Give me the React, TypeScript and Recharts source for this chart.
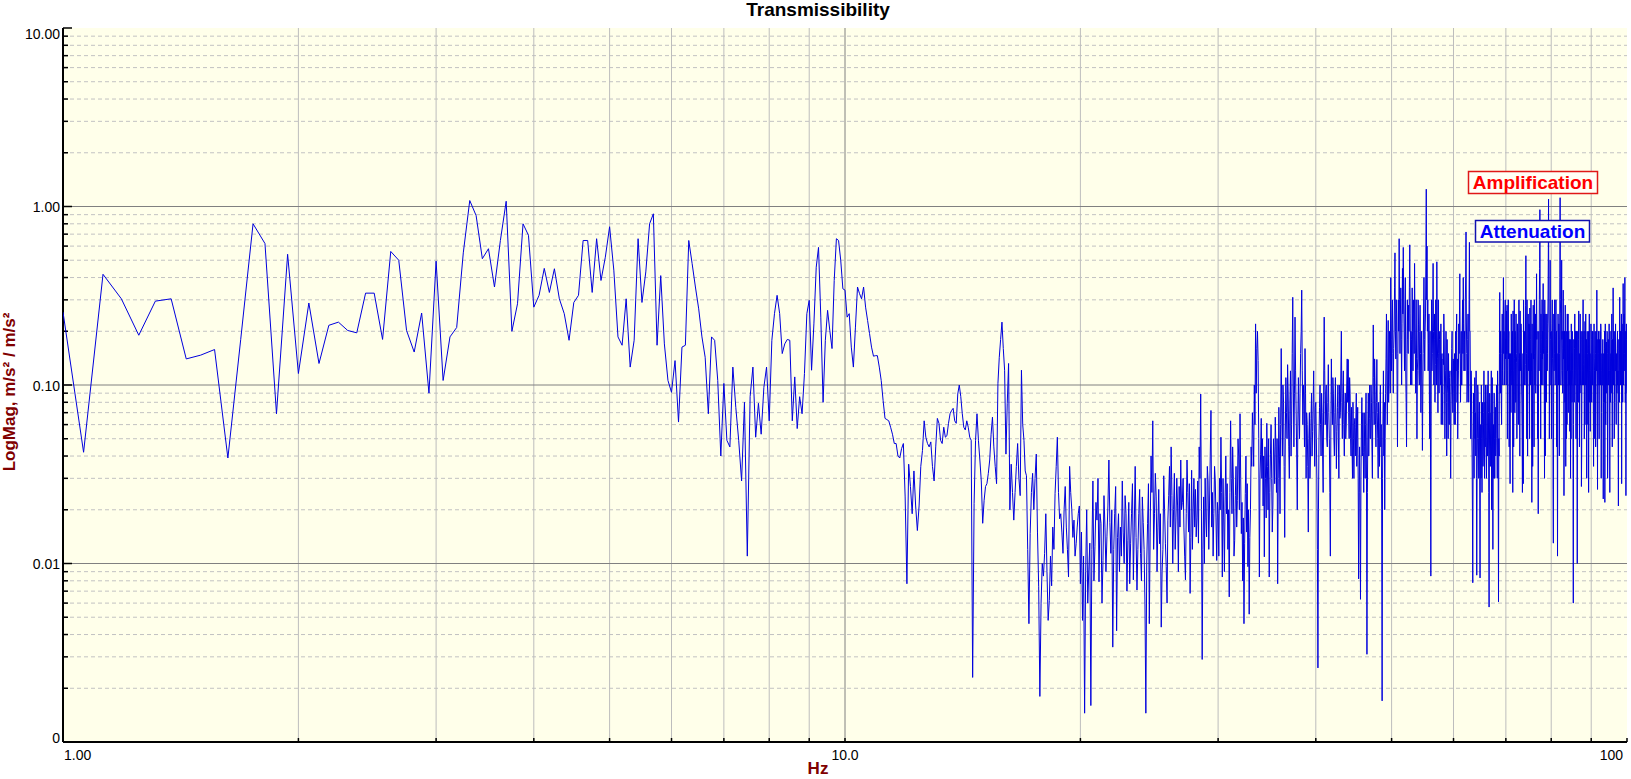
import React from 'react';
import { LineChart, Line, XAxis, YAxis, ReferenceLine } from 'recharts';

const W = 1631;
const H = 779;
const LEFT = 63; // y axis line
const TOP = 28;
const RIGHT = 1627;
const BOTTOM = 742; // x axis line
const FONT = '"Liberation Sans", Arial, Helvetica, sans-serif';

const STEP = 0.0625; // 1/16 Hz frequency lines

// magnitudes, one value per frequency line
const mag1to3 = [
  0.256, 0.042, 0.417, 0.304, 0.19, 0.295, 0.304, 0.14, 0.147, 0.158, 0.039, 0.18, 0.8, 0.62, 0.069, 0.54,
  0.116, 0.288, 0.132, 0.216, 0.225, 0.202, 0.196, 0.327, 0.327, 0.18, 0.56, 0.5, 0.202, 0.153, 0.253, 0.09,
];
const mag3to5 = [
  0.494, 0.106, 0.186, 0.21, 0.55, 1.08, 0.89, 0.51, 0.58, 0.354, 0.645, 1.07, 0.2, 0.285, 0.8, 0.69,
  0.273, 0.318, 0.45, 0.33, 0.448, 0.304, 0.251, 0.178, 0.29, 0.318, 0.645, 0.645, 0.33, 0.66, 0.385, 0.52,
];
const mag5to8 = [
  0.77, 0.44, 0.186, 0.167, 0.304, 0.126, 0.178, 0.66, 0.29, 0.43, 0.8, 0.91, 0.167, 0.41, 0.17, 0.106,
  0.091, 0.137, 0.062, 0.163, 0.167, 0.645, 0.48, 0.354, 0.267, 0.186, 0.143, 0.069, 0.186, 0.178, 0.106, 0.04,
  0.102, 0.049, 0.045, 0.126, 0.075, 0.049, 0.029, 0.08, 0.011, 0.086, 0.126, 0.051, 0.079, 0.053, 0.097, 0.126,
];
const mag8to12 = [
  0.063, 0.178, 0.251, 0.318, 0.251, 0.15, 0.17, 0.18, 0.178, 0.063, 0.111, 0.057, 0.086, 0.069, 0.116, 0.251,
  0.298, 0.121, 0.22, 0.457, 0.59, 0.24, 0.08, 0.178, 0.262, 0.202, 0.16, 0.385, 0.66, 0.645, 0.5, 0.346,
  0.34, 0.24, 0.251, 0.163, 0.126, 0.211, 0.354, 0.325, 0.304, 0.354, 0.273, 0.23, 0.194, 0.163, 0.145, 0.146,
  0.146, 0.126, 0.106, 0.082, 0.065, 0.064, 0.063, 0.058, 0.053, 0.047, 0.047, 0.04, 0.039, 0.044, 0.047, 0.0236,
];
const mag12to16 = [
  0.0077, 0.036, 0.027, 0.019, 0.033, 0.021, 0.0153, 0.021, 0.035, 0.043, 0.063, 0.051, 0.047, 0.045, 0.048, 0.035,
  0.029, 0.045, 0.065, 0.061, 0.049, 0.047, 0.058, 0.051, 0.052, 0.061, 0.069, 0.072, 0.074, 0.063, 0.061, 0.089,
  0.1, 0.086, 0.069, 0.058, 0.056, 0.063, 0.058, 0.051, 0.049, 0.0023, 0.0217, 0.049, 0.069, 0.049, 0.038, 0.029,
  0.0168, 0.0226, 0.027, 0.028, 0.032, 0.038, 0.053, 0.066, 0.045, 0.035, 0.028, 0.102, 0.143, 0.18, 0.225, 0.16,
];
const mag16to20 = [
  0.121, 0.041, 0.079, 0.132, 0.02, 0.036, 0.025, 0.0175, 0.025, 0.035, 0.047, 0.03, 0.024, 0.121, 0.06, 0.049,
  0.033, 0.031, 0.012, 0.0046, 0.0147, 0.025, 0.032, 0.02, 0.03, 0.041, 0.015, 0.0074, 0.0018, 0.006, 0.01, 0.0085,
  0.0114, 0.019, 0.009, 0.0048, 0.0062, 0.011, 0.0075, 0.016, 0.012, 0.0247, 0.035, 0.051, 0.025, 0.0178, 0.019, 0.015,
  0.0114, 0.02, 0.027, 0.016, 0.012, 0.0084, 0.035, 0.025, 0.02, 0.014, 0.0175, 0.011, 0.0129, 0.016, 0.019, 0.021,
];
const mag20to36 = [
  0.0077, 0.015, 0.0048, 0.011, 0.00145, 0.009, 0.02, 0.006, 0.0092, 0.013, 0.0016, 0.012, 0.029, 0.008, 0.0124, 0.022,
  0.0175, 0.03, 0.0079, 0.019, 0.0168, 0.006, 0.0104, 0.024, 0.016, 0.009, 0.0141, 0.021, 0.038, 0.017, 0.0114, 0.02,
  0.0034, 0.012, 0.019, 0.027, 0.0042, 0.014, 0.019, 0.009, 0.016, 0.011, 0.029, 0.015, 0.01, 0.024, 0.019, 0.007,
  0.0135, 0.022, 0.0077, 0.013, 0.019, 0.028, 0.0081, 0.016, 0.035, 0.014, 0.0071, 0.012, 0.019, 0.026, 0.0114, 0.008,
  0.0236, 0.017, 0.012, 0.006, 0.00145, 0.01, 0.0168, 0.028, 0.0046, 0.015, 0.04, 0.025, 0.063, 0.012, 0.019, 0.032,
  0.0236, 0.009, 0.016, 0.026, 0.0129, 0.019, 0.0044, 0.009, 0.012, 0.031, 0.02, 0.013, 0.0096, 0.006, 0.0175, 0.024,
  0.035, 0.016, 0.045, 0.024, 0.01, 0.02, 0.032, 0.012, 0.018, 0.03, 0.021, 0.009, 0.027, 0.016, 0.038, 0.02,
  0.022, 0.03, 0.016, 0.011, 0.0081, 0.019, 0.038, 0.025, 0.015, 0.028, 0.0068, 0.014, 0.0333, 0.012, 0.02, 0.03,
  0.016, 0.026, 0.0141, 0.018, 0.029, 0.013, 0.045, 0.03, 0.089, 0.02, 0.0029, 0.012, 0.0236, 0.01, 0.03, 0.018,
  0.0141, 0.035, 0.029, 0.012, 0.021, 0.04, 0.072, 0.016, 0.025, 0.011, 0.019, 0.035, 0.029, 0.018, 0.0104, 0.022,
  0.019, 0.011, 0.03, 0.02, 0.051, 0.025, 0.0084, 0.03, 0.018, 0.009, 0.0236, 0.04, 0.019, 0.028, 0.012, 0.02,
  0.0065, 0.025, 0.063, 0.03, 0.019, 0.045, 0.03, 0.011, 0.0135, 0.024, 0.035, 0.016, 0.0226, 0.05, 0.04, 0.02,
  0.069, 0.03, 0.0147, 0.022, 0.008, 0.018, 0.0046, 0.013, 0.0247, 0.04, 0.015, 0.028, 0.0096, 0.02, 0.0052, 0.014,
  0.02, 0.045, 0.035, 0.07, 0.053, 0.035, 0.1, 0.06, 0.22, 0.09, 0.16, 0.2, 0.137, 0.05, 0.0084, 0.03,
  0.041, 0.065, 0.03, 0.05, 0.021, 0.04, 0.0109, 0.045, 0.03, 0.018, 0.061, 0.035, 0.02, 0.05, 0.0084, 0.025,
  0.041, 0.06, 0.03, 0.015, 0.021, 0.05, 0.04, 0.028, 0.066, 0.045, 0.025, 0.05, 0.0077, 0.03, 0.075, 0.04,
];
const mag36to50 = [
  0.019, 0.06, 0.16, 0.07, 0.04, 0.1, 0.08, 0.035, 0.014, 0.05, 0.11, 0.07, 0.05, 0.13, 0.09, 0.045,
  0.03, 0.08, 0.12, 0.04, 0.06, 0.15, 0.31, 0.1, 0.045, 0.09, 0.24, 0.12, 0.07, 0.04, 0.02, 0.06,
  0.11, 0.07, 0.05, 0.09, 0.15, 0.2, 0.34, 0.12, 0.06, 0.1, 0.08, 0.045, 0.16, 0.09, 0.03, 0.07,
  0.06, 0.035, 0.015, 0.05, 0.07, 0.03, 0.04, 0.065, 0.09, 0.04, 0.055, 0.08, 0.12, 0.06, 0.035, 0.075,
  0.08, 0.05, 0.03, 0.012, 0.0026, 0.02, 0.05, 0.075, 0.1, 0.06, 0.04, 0.09, 0.07, 0.04, 0.025, 0.1,
  0.24, 0.12, 0.06, 0.09, 0.1, 0.05, 0.045, 0.08, 0.13, 0.07, 0.05, 0.025, 0.011, 0.06, 0.14, 0.08,
  0.06, 0.11, 0.09, 0.05, 0.04, 0.07, 0.11, 0.06, 0.034, 0.055, 0.075, 0.1, 0.05, 0.03, 0.1, 0.065,
  0.07, 0.12, 0.2, 0.08, 0.05, 0.09, 0.12, 0.06, 0.04, 0.07, 0.09, 0.05, 0.06, 0.1, 0.14, 0.08,
  0.139, 0.07, 0.05, 0.11, 0.09, 0.05, 0.04, 0.075, 0.046, 0.03, 0.08, 0.05, 0.03, 0.06, 0.065, 0.04,
  0.058, 0.09, 0.035, 0.05, 0.075, 0.03, 0.0082, 0.025, 0.045, 0.02, 0.0063, 0.03, 0.06, 0.085, 0.04, 0.07,
  0.042, 0.025, 0.07, 0.045, 0.03, 0.06, 0.09, 0.03, 0.0031, 0.025, 0.06, 0.09, 0.04, 0.065, 0.1, 0.05,
  0.05, 0.1, 0.08, 0.045, 0.03, 0.09, 0.217, 0.11, 0.06, 0.14, 0.1, 0.06, 0.045, 0.08, 0.139, 0.07,
  0.05, 0.03, 0.08, 0.05, 0.035, 0.07, 0.1, 0.045, 0.06, 0.02, 0.0017, 0.03, 0.07, 0.12, 0.04, 0.08,
  0.02, 0.05, 0.09, 0.14, 0.25, 0.1, 0.06, 0.12, 0.23, 0.08, 0.1, 0.2, 0.15, 0.09, 0.4, 0.18,
];
const mag50to70 = [
  0.12, 0.22, 0.3, 0.15, 0.09, 0.16, 0.2, 0.35, 0.55, 0.2, 0.14, 0.3, 0.25, 0.1, 0.045, 0.15,
  0.3, 0.2, 0.66, 0.3, 0.15, 0.25, 0.35, 0.18, 0.1, 0.22, 0.45, 0.25, 0.59, 0.3, 0.2, 0.12,
  0.25, 0.4, 0.12, 0.08, 0.045, 0.15, 0.3, 0.18, 0.15, 0.28, 0.2, 0.35, 0.61, 0.25, 0.1, 0.2,
  0.18, 0.1, 0.35, 0.2, 0.12, 0.3, 0.25, 0.15, 0.48, 0.22, 0.15, 0.09, 0.3, 0.14, 0.05, 0.12,
  0.14, 0.3, 0.217, 0.12, 0.1, 0.2, 0.28, 0.15, 0.07, 0.12, 0.2, 0.1, 0.043, 0.09, 0.15, 0.25,
  0.4, 0.18, 0.12, 0.2, 0.25, 0.5, 1.25, 0.3, 0.6, 0.2, 0.3, 0.12, 0.17, 0.25, 0.1, 0.05,
  0.2, 0.05, 0.0085, 0.1, 0.3, 0.12, 0.15, 0.25, 0.48, 0.2, 0.1, 0.18, 0.25, 0.08, 0.13, 0.3,
  0.2, 0.1, 0.49, 0.2, 0.14, 0.07, 0.3, 0.15, 0.09, 0.18, 0.2, 0.12, 0.1, 0.22, 0.06, 0.14,
  0.15, 0.09, 0.06, 0.14, 0.13, 0.25, 0.2, 0.1, 0.05, 0.09, 0.12, 0.2, 0.08, 0.04, 0.18, 0.1,
  0.09, 0.05, 0.15, 0.08, 0.06, 0.11, 0.12, 0.06, 0.03, 0.07, 0.1, 0.16, 0.2, 0.1, 0.07, 0.14,
  0.137, 0.09, 0.06, 0.15, 0.1, 0.06, 0.2, 0.12, 0.19, 0.25, 0.08, 0.14, 0.05, 0.09, 0.12, 0.22,
  0.15, 0.25, 0.42, 0.15, 0.08, 0.14, 0.2, 0.1, 0.1, 0.2, 0.3, 0.15, 0.4, 0.22, 0.12, 0.18,
  0.2, 0.12, 0.3, 0.4, 0.72, 0.25, 0.15, 0.08, 0.1, 0.18, 0.25, 0.12, 0.08, 0.3, 0.63, 0.2,
  0.2, 0.09, 0.05, 0.12, 0.1, 0.06, 0.04, 0.02, 0.0078, 0.04, 0.09, 0.05, 0.03, 0.07, 0.11, 0.05,
  0.07, 0.04, 0.12, 0.03, 0.0086, 0.03, 0.05, 0.1, 0.09, 0.05, 0.03, 0.06, 0.08, 0.03, 0.0083, 0.04,
  0.06, 0.03, 0.1, 0.05, 0.025, 0.06, 0.08, 0.035, 0.04, 0.07, 0.12, 0.05, 0.03, 0.08, 0.045, 0.1,
  0.08, 0.04, 0.03, 0.07, 0.1, 0.04, 0.05, 0.12, 0.07, 0.025, 0.0057, 0.04, 0.09, 0.05, 0.035, 0.07,
  0.07, 0.12, 0.02, 0.05, 0.11, 0.04, 0.012, 0.05, 0.06, 0.03, 0.09, 0.05, 0.03, 0.06, 0.075, 0.04,
  0.05, 0.08, 0.1, 0.05, 0.03, 0.12, 0.08, 0.03, 0.0061, 0.05, 0.04, 0.15, 0.33, 0.12, 0.09, 0.2,
  0.15, 0.08, 0.06, 0.15, 0.25, 0.12, 0.1, 0.22, 0.4, 0.15, 0.2, 0.1, 0.12, 0.25, 0.3, 0.14,
];
const mag70to100 = [
  0.18, 0.1, 0.26, 0.15, 0.28, 0.05, 0.12, 0.22, 0.3, 0.14, 0.2, 0.045, 0.15, 0.06, 0.028, 0.1,
  0.15, 0.07, 0.25, 0.12, 0.1, 0.18, 0.2, 0.025, 0.26, 0.12, 0.045, 0.15, 0.3, 0.14, 0.07, 0.2,
  0.18, 0.08, 0.25, 0.15, 0.133, 0.05, 0.1, 0.22, 0.2, 0.1, 0.06, 0.14, 0.3, 0.12, 0.15, 0.04,
  0.26, 0.14, 0.12, 0.22, 0.2, 0.1, 0.08, 0.05, 0.025, 0.09, 0.15, 0.028, 0.3, 0.16, 0.1, 0.2,
  0.2, 0.1, 0.13, 0.28, 0.53, 0.2, 0.15, 0.05, 0.3, 0.12, 0.04, 0.1, 0.25, 0.14, 0.12, 0.22,
  0.2, 0.05, 0.27, 0.13, 0.1, 0.18, 0.3, 0.12, 0.15, 0.022, 0.22, 0.1, 0.035, 0.12, 0.28, 0.14,
  0.15, 0.045, 0.3, 0.15, 0.1, 0.2, 0.25, 0.09, 0.12, 0.22, 0.42, 0.18, 0.2, 0.1, 0.05, 0.1,
  0.019, 0.08, 0.2, 0.12, 0.3, 0.45, 0.96, 0.3, 0.15, 0.05, 0.25, 0.12, 0.1, 0.18, 0.3, 0.14,
  0.2, 0.1, 0.37, 0.16, 0.15, 0.25, 0.1, 0.03, 0.3, 0.12, 0.04, 0.12, 0.25, 0.15, 0.08, 0.18,
  0.25, 0.12, 0.15, 0.22, 0.3, 0.5, 1.1, 0.25, 0.2, 0.05, 0.1, 0.2, 0.5, 0.2, 0.18, 0.1,
  0.2, 0.05, 0.12, 0.22, 0.3, 0.14, 0.1, 0.026, 0.013, 0.08, 0.25, 0.12, 0.15, 0.3, 0.2, 0.1,
  0.12, 0.2, 0.3, 0.12, 0.2, 0.045, 0.15, 0.05, 0.011, 0.1, 0.25, 0.15, 0.1, 0.22, 0.18, 0.04,
  0.15, 0.4, 1.12, 0.3, 0.25, 0.1, 0.12, 0.25, 0.5, 0.18, 0.2, 0.12, 0.09, 0.16, 0.34, 0.14,
  0.2, 0.024, 0.1, 0.2, 0.15, 0.08, 0.28, 0.12, 0.035, 0.1, 0.2, 0.05, 0.12, 0.06, 0.25, 0.12,
  0.15, 0.25, 0.07, 0.12, 0.2, 0.1, 0.1, 0.18, 0.055, 0.1, 0.18, 0.03, 0.12, 0.05, 0.22, 0.1,
  0.15, 0.08, 0.2, 0.12, 0.1, 0.03, 0.006, 0.06, 0.18, 0.12, 0.08, 0.16, 0.25, 0.1, 0.12, 0.2,
  0.2, 0.05, 0.1, 0.2, 0.15, 0.05, 0.01, 0.08, 0.2, 0.12, 0.08, 0.18, 0.26, 0.13, 0.12, 0.045,
  0.15, 0.09, 0.25, 0.12, 0.1, 0.2, 0.18, 0.027, 0.04, 0.1, 0.2, 0.1, 0.12, 0.2, 0.3, 0.13,
  0.1, 0.18, 0.2, 0.05, 0.08, 0.14, 0.227, 0.1, 0.15, 0.25, 0.06, 0.12, 0.18, 0.03, 0.1, 0.2,
  0.15, 0.1, 0.06, 0.12, 0.2, 0.025, 0.1, 0.16, 0.25, 0.12, 0.08, 0.15, 0.055, 0.1, 0.12, 0.22,
  0.18, 0.1, 0.08, 0.14, 0.2, 0.12, 0.1, 0.2, 0.15, 0.07, 0.035, 0.1, 0.22, 0.14, 0.12, 0.05,
  0.1, 0.2, 0.15, 0.045, 0.08, 0.13, 0.2, 0.12, 0.34, 0.15, 0.1, 0.026, 0.18, 0.1, 0.12, 0.2,
  0.15, 0.09, 0.05, 0.12, 0.18, 0.1, 0.2, 0.14, 0.1, 0.22, 0.2, 0.03, 0.07, 0.12, 0.15, 0.1,
  0.1, 0.14, 0.18, 0.07, 0.023, 0.08, 0.15, 0.1, 0.08, 0.16, 0.2, 0.022, 0.12, 0.22, 0.1, 0.06,
  0.16, 0.09, 0.174, 0.12, 0.1, 0.2, 0.15, 0.03, 0.04, 0.1, 0.18, 0.12, 0.1, 0.16, 0.22, 0.12,
  0.12, 0.025, 0.2, 0.12, 0.08, 0.14, 0.15, 0.09, 0.1, 0.18, 0.25, 0.1, 0.045, 0.1, 0.18, 0.12,
  0.35, 0.15, 0.1, 0.2, 0.18, 0.05, 0.08, 0.14, 0.2, 0.12, 0.12, 0.22, 0.15, 0.08, 0.06, 0.12,
  0.15, 0.09, 0.1, 0.16, 0.2, 0.1, 0.12, 0.05, 0.021, 0.08, 0.18, 0.1, 0.08, 0.15, 0.31, 0.14,
  0.15, 0.1, 0.2, 0.12, 0.1, 0.18, 0.25, 0.028, 0.12, 0.22, 0.2, 0.1, 0.08, 0.16, 0.37, 0.15,
  0.1, 0.18, 0.25, 0.12, 0.15, 0.22, 0.4, 0.15, 0.08, 0.14, 0.2, 0.024, 0.12, 0.22, 0.18, 0.1,
  0.09,
];

const X_TICKS = [1, 2, 3, 4, 5, 6, 7, 8, 9, 10, 20, 30, 40, 50, 60, 70, 80, 90, 100];
const Y_TICKS = [
  0.001, 0.002, 0.003, 0.004, 0.005, 0.006, 0.007, 0.008, 0.009,
  0.01, 0.02, 0.03, 0.04, 0.05, 0.06, 0.07, 0.08, 0.09,
  0.1, 0.2, 0.3, 0.4, 0.5, 0.6, 0.7, 0.8, 0.9,
  1, 2, 3, 4, 5, 6, 7, 8, 9, 10,
];
const X_GRID_MINOR = [2, 3, 4, 5, 6, 7, 8, 9, 20, 30, 40, 50, 60, 70, 80, 90];
const Y_GRID_MAJOR = [0.01, 0.1, 1];
const Y_GRID_MINOR = Y_TICKS.filter((v) => v !== 0.001 && v !== 10 && !Y_GRID_MAJOR.includes(v));
const X_LABELS: Record<string, string> = { '1': '1.00', '10': '10.0', '100': '100' };
const Y_LABELS: Record<string, string> = { '10': '10.00', '1': '1.00', '0.1': '0.10', '0.01': '0.01', '0.001': '0' };

const segments: [number, number[]][] = [
  [1, mag1to3],
  [3, mag3to5],
  [5, mag5to8],
  [8, mag8to12],
  [12, mag12to16],
  [16, mag16to20],
  [20, mag20to36],
  [36, mag36to50],
  [50, mag50to70],
  [70, mag70to100],
];
const data = segments.flatMap(([start, vals]) => vals.map((mag, i) => ({ f: start + i * STEP, mag })));

const margin = { top: TOP, right: W - RIGHT, left: 0, bottom: 0 };

function YTick(props: any) {
  const { y, payload } = props;
  const v = payload.value as number;
  const label = Y_LABELS[String(v)];
  const dy = v === 10 ? 11 : v === 0.001 ? 1 : 5.5;
  return (
    <g>
      <line x1={LEFT} x2={LEFT + (label ? 9 : 5)} y1={y} y2={y} stroke="#000" strokeWidth={1.5} />
      {label && (
        <text x={LEFT - 3} y={y + dy} textAnchor="end" fontSize={14} fontFamily={FONT} fill="#000">
          {label}
        </text>
      )}
    </g>
  );
}

function XTick(props: any) {
  const { x, payload } = props;
  const v = payload.value as number;
  const label = X_LABELS[String(v)];
  const anchor = v === 1 ? 'start' : v === 100 ? 'end' : 'middle';
  const tx = v === 1 ? LEFT + 1 : v === 100 ? x - 4 : x;
  return (
    <g>
      <line x1={x} x2={x} y1={BOTTOM} y2={BOTTOM - 4} stroke="#000" strokeWidth={1.5} />
      {label && (
        <text x={tx} y={760} textAnchor={anchor} fontSize={14} fontFamily={FONT} fill="#000">
          {label}
        </text>
      )}
    </g>
  );
}

const layer: React.CSSProperties = { position: 'absolute', left: 0, top: 0 };

export default function App() {
  return (
    <div style={{ position: 'absolute', left: 0, top: 0, width: W, height: H, background: '#fff', overflow: 'hidden' }}>
      {/* plot background */}
      <div style={{ ...layer, left: LEFT, top: TOP, width: RIGHT - LEFT, height: BOTTOM - TOP, background: '#FFFFEA' }} />

      {/* grid + axes */}
      <div style={layer}>
        <LineChart width={W} height={H} data={data} margin={margin}>
          {Y_GRID_MINOR.map((v) => (
            <ReferenceLine key={'ym' + v} y={v} stroke="#C2C2C2" strokeDasharray="4 3" />
          ))}
          {X_GRID_MINOR.map((v) => (
            <ReferenceLine key={'xm' + v} x={v} stroke="#BDBDBD" />
          ))}
          {Y_GRID_MAJOR.map((v) => (
            <ReferenceLine key={'yM' + v} y={v} stroke="#808080" />
          ))}
          <ReferenceLine x={10} stroke="#808080" />
          <XAxis
            dataKey="f"
            type="number"
            scale="log"
            domain={[1, 100]}
            allowDataOverflow
            ticks={X_TICKS}
            interval={0}
            height={H - BOTTOM}
            axisLine={{ stroke: '#000', strokeWidth: 2 }}
            tickLine={false}
            tick={<XTick />}
          />
          <YAxis
            type="number"
            scale="log"
            domain={[0.001, 10]}
            allowDataOverflow
            ticks={Y_TICKS}
            interval={0}
            width={LEFT}
            axisLine={{ stroke: '#000', strokeWidth: 2 }}
            tickLine={false}
            tick={<YTick />}
          />
        </LineChart>
      </div>

      {/* data trace */}
      <div style={layer}>
        <LineChart width={W} height={H} data={data} margin={margin}>
          <XAxis dataKey="f" type="number" scale="log" domain={[1, 100]} allowDataOverflow height={H - BOTTOM} tick={false} axisLine={false} tickLine={false} />
          <YAxis type="number" scale="log" domain={[0.001, 10]} allowDataOverflow width={LEFT} tick={false} axisLine={false} tickLine={false} />
          <Line type="linear" dataKey="mag" stroke="#0000DD" strokeWidth={1} dot={false} isAnimationActive={false} />
        </LineChart>
      </div>

      {/* titles and annotations */}
      <svg width={W} height={H} style={{ ...layer, pointerEvents: 'none' }} fontFamily={FONT}>
        <text x={818} y={16} textAnchor="middle" fontSize={19} fontWeight="bold" fill="#000">
          Transmissibility
        </text>
        <text x={818} y={774} textAnchor="middle" fontSize={17} fontWeight="bold" fill="#800000">
          Hz
        </text>
        <text transform="translate(15,392) rotate(-90)" textAnchor="middle" fontSize={17} fontWeight="bold" fill="#800000">
          LogMag, m/s² / m/s²
        </text>
        <rect x={1468.5} y={171.5} width={129} height={22} fill="#FFFFF6" stroke="#E01818" strokeWidth={1.5} />
        <text x={1533} y={189} textAnchor="middle" fontSize={19} fontWeight="bold" fill="#FF0000">
          Amplification
        </text>
        <rect x={1475.5} y={220.5} width={114} height={21.5} fill="#FFFFF6" stroke="#1010B0" strokeWidth={1.5} />
        <text x={1532.5} y={238} textAnchor="middle" fontSize={19} fontWeight="bold" fill="#0000FF">
          Attenuation
        </text>
      </svg>
    </div>
  );
}
